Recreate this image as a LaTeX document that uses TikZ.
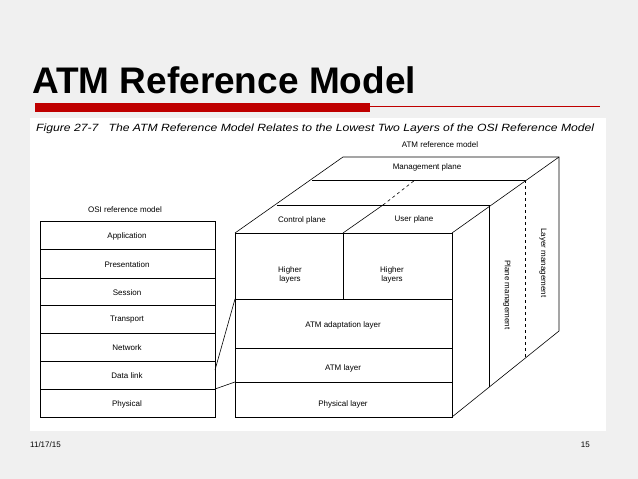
\documentclass[tikz,border=0pt]{standalone}
\usepackage{graphicx}
\usepackage{fontspec}
\setmainfont{Liberation Sans}
\begin{document}
\begin{tikzpicture}[x=1pt,y=-1pt,
  lbl/.style={font=\fontsize{8}{9.5}\selectfont,align=center,inner sep=0pt},
  ln/.style={draw=black,line width=0.6pt}]
\useasboundingbox (0,0) rectangle (638,479);
\fill[gray!12] (0,0) rectangle (638,479);
\fill[white] (30,118) rectangle (606,431);
% title
\node[anchor=base west,font=\bfseries\fontsize{37}{40}\selectfont,inner sep=0pt] (title) at (32,93) {ATM Reference Model};
\fill[red!75!black] (35,103) rectangle (370,112);
\draw[red!75!black,line width=0.6pt] (370,106) -- (600,106);
\node[anchor=west,font=\itshape\fontsize{10.5}{12}\selectfont,inner sep=0pt] (cap) at (36,129) {\scalebox{1.16}[1]{Figure 27-7\ \ \ The\ ATM\ Reference\ Model\ Relates\ to\ the\ Lowest\ Two\ Layers\ of\ the\ OSI\ Reference\ Model}};
% OSI stack
\node[lbl] (osi) at (125,210) {OSI reference model};
\foreach \t/\a/\b [count=\i] in {Application/221/249,Presentation/249/278,Session/278/305,Transport/305/333,Network/333/361,Data link/361/389,Physical/389/417}{
  \draw[ln] (40,\a) rectangle (215,\b);
  \node[lbl] (o\i) at (127,{(\a+\b)/2+1}) {\t};
}
% cube outline
\draw[ln] (235,233) rectangle (452,417);
\draw[ln] (235,299) -- (452,299) (235,348) -- (452,348) (235,382) -- (452,382);
\draw[ln] (343,233) -- (343,299);
\draw[ln] (235,233) -- (343,157) -- (559,157) -- (559,331) -- (452,417);
\draw[ln] (452,233) -- (559,157);
\draw[ln] (277,205) -- (489,205) (312,180) -- (525,180);
\draw[ln] (343,233) -- (383,205);
\draw[ln,dashed] (383,205) -- (415,180);
\draw[ln] (489,205) -- (489,387);
\draw[ln,dashed] (525,180) -- (525,358);
% connectors
\coordinate (c1) at (235,299); \coordinate (c2) at (235,382);
\coordinate (s1) at (215,370); \coordinate (s2) at (215,389);
\draw[ln] (s1) -- (c1);
\draw[ln] (s2) -- (c2);
% labels
\node[lbl] (arm) at (440,145) {ATM reference model};
\node[lbl] (mp) at (427,167) {Management plane};
\node[lbl] (cp) at (302,220) {Control plane};
\node[lbl] (up) at (414,219) {User plane};
\node[lbl] (h1) at (290,275) {Higher\\layers};
\node[lbl] (h2) at (392,275) {Higher\\layers};
\node[lbl] (aal) at (343,325) {ATM adaptation layer};
\node[lbl] (atm) at (343,368) {ATM layer};
\node[lbl] (phy) at (343,404) {Physical layer};
\node[lbl,rotate=-90] (pm) at (507,295) {Plane management};
\node[lbl,rotate=-90] (lm) at (543,263) {Layer management};
% footer
\node[anchor=west,font=\fontsize{8}{9}\selectfont,inner sep=0pt] (d) at (30,445) {11/17/15};
\node[anchor=east,font=\fontsize{8}{9}\selectfont,inner sep=0pt] (p) at (590,445) {15};
\end{tikzpicture}
\end{document}
